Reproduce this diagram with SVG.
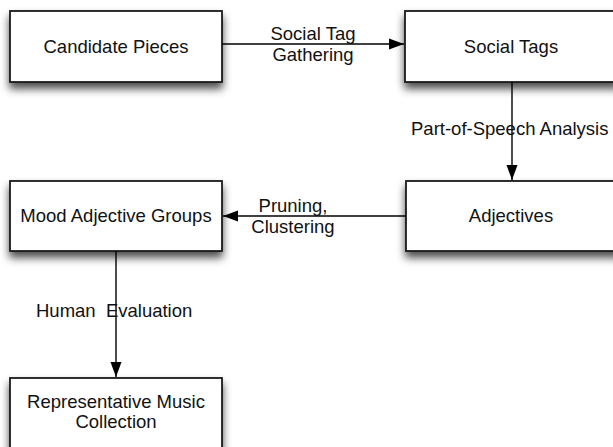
<svg xmlns="http://www.w3.org/2000/svg" width="613" height="447" viewBox="0 0 613 447">
  <defs>
    <filter id="shadow" x="-10%" y="-20%" width="120%" height="170%">
      <feDropShadow dx="0" dy="6" stdDeviation="4" flood-color="#000" flood-opacity="0.7"/>
    </filter>
    <marker id="arrow" markerUnits="userSpaceOnUse" markerWidth="16" markerHeight="12" refX="15" refY="6" orient="auto">
      <path d="M0,0.5 L15,6 L0,11.5 Z" fill="#000"/>
    </marker>
    <style>
      .box { fill: #fff; stroke: #1a1a1a; stroke-width: 1.8; filter: url(#shadow); }
      .node-text { font-family: "Liberation Sans", Arial, sans-serif; font-size: 18.5px; fill: #111; text-anchor: middle; }
      .edge { stroke: #000; stroke-width: 1.4; fill: none; marker-end: url(#arrow); }
      .edge-label { font-family: "Liberation Sans", Arial, sans-serif; font-size: 18.5px; fill: #111; white-space: pre; }
    </style>
  </defs>

  <rect width="613" height="447" fill="#fff"/>

  <g id="candidate-pieces">
    <rect class="box" x="10" y="11" width="212" height="71"/>
    <text class="node-text" x="116" y="53">Candidate Pieces</text>
  </g>

  <g id="social-tags">
    <rect class="box" x="405" y="11" width="214" height="71"/>
    <text class="node-text" x="511" y="53">Social Tags</text>
  </g>

  <g id="adjectives">
    <rect class="box" x="406" y="181" width="214" height="70"/>
    <text class="node-text" x="511" y="222">Adjectives</text>
  </g>

  <g id="mood-adjective-groups">
    <rect class="box" x="10" y="181" width="212" height="70"/>
    <text class="node-text" x="116" y="222">Mood Adjective Groups</text>
  </g>

  <g id="representative-music-collection">
    <rect class="box" x="10" y="378" width="212" height="71"/>
    <text class="node-text" x="116" y="408">Representative Music</text>
    <text class="node-text" x="116" y="428">Collection</text>
  </g>

  <g id="connectors">
    <line class="edge" x1="222" y1="44" x2="404" y2="44"/>
    <text class="edge-label" x="313" y="40" text-anchor="middle">Social Tag</text>
    <text class="edge-label" x="313" y="61" text-anchor="middle">Gathering</text>

    <line class="edge" x1="512" y1="82" x2="512" y2="180"/>
    <text class="edge-label" x="411" y="135">Part-of-Speech Analysis</text>

    <line class="edge" x1="406" y1="216" x2="223" y2="216"/>
    <text class="edge-label" x="293" y="212" text-anchor="middle">Pruning,</text>
    <text class="edge-label" x="293" y="233" text-anchor="middle">Clustering</text>

    <line class="edge" x1="116" y1="251" x2="116" y2="377"/>
    <text class="edge-label" x="36" y="317">Human  Evaluation</text>
  </g>
</svg>
